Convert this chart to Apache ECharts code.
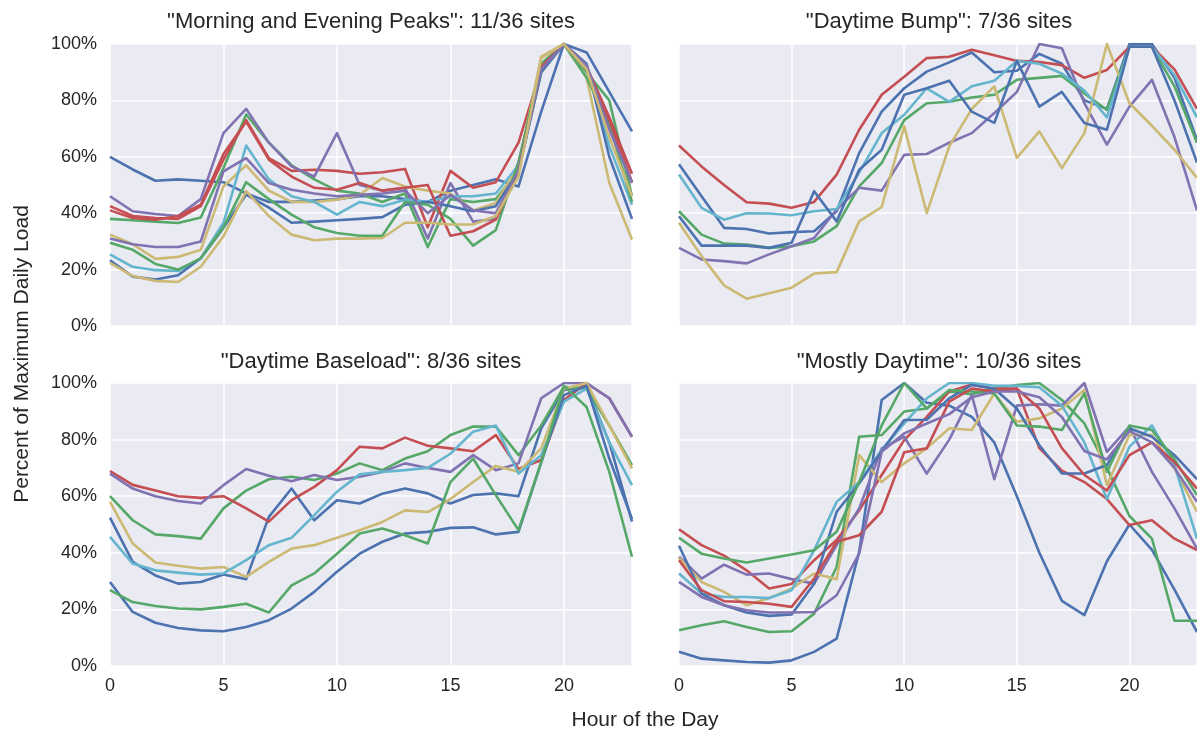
<!DOCTYPE html>
<html>
<head>
<meta charset="utf-8">
<script src="https://cdn.jsdelivr.net/npm/echarts@6/dist/echarts.min.js"></script>
<style>
  html, body { margin: 0; padding: 0; background: #fff; }
  #chart { width: 1197px; height: 731px; }
</style>
</head>
<body>
<div id="chart"></div>
<script>
// Hours of the day on the shared x axis
const hours = [0, 1, 2, 3, 4, 5, 6, 7, 8, 9, 10, 11, 12, 13, 14, 15, 16, 17, 18, 19, 20, 21, 22, 23];
const xTicks = [0, 5, 10, 15, 20];
const yTicks = [0, 20, 40, 60, 80, 100];

const panelTitles = [
  '"Morning and Evening Peaks": 11/36 sites',
  '"Daytime Bump": 7/36 sites',
  '"Daytime Baseload": 8/36 sites',
  '"Mostly Daytime": 10/36 sites'
];

// Percent of maximum daily load, one row per site
const morningEveningPeaks = [
  [60, 55.5, 51.5, 52, 51.5, 51, 47, 44, 44, 44.5, 45, 46, 46, 45, 44, 48, 50, 52, 49.5, 76, 100, 97, 83, 69],
  [38, 37.5, 37, 36.5, 38.5, 56, 75, 65, 57, 52, 48, 47, 44, 47, 28, 45, 44, 45, 55, 90, 100, 90, 80, 46],
  [42.5, 39, 38.3, 38, 42.5, 59, 73, 59.5, 55, 55.4, 55, 54, 54.5, 55.7, 35, 55, 49, 51, 65, 91, 100, 92, 74, 54],
  [46, 40.7, 39.7, 39, 45, 68.4, 77, 65, 56.6, 53, 68.4, 50, 48, 49, 31, 50.7, 37, 38, 58, 91, 100, 91, 72, 50.7],
  [32.4, 29, 23.8, 24.5, 27, 49.5, 57, 48, 44, 44, 44.8, 46.5, 52.5, 49.5, 48, 47, 41, 43.6, 56.6, 95.5, 100, 88, 50.7, 30.7],
  [25.4, 21, 19.8, 19.5, 24, 36.6, 64, 52, 46, 44, 39.5, 44, 42.5, 44.8, 44, 46, 46, 47, 57, 93, 100, 92, 63.7, 43],
  [23.3, 17.5, 16.5, 18, 24, 34.8, 46.6, 42, 36.6, 37, 37.5, 38, 38.6, 43, 44, 42.5, 40.7, 42.5, 55, 90, 100, 93, 60, 38],
  [29.5, 27, 22, 20, 24, 35, 51, 45, 39.5, 35, 33, 32, 32, 44, 43, 38, 28.5, 34, 58, 93, 100, 88, 72, 44],
  [41, 38.3, 37.7, 39, 43, 61, 72.5, 59, 53, 49, 48.3, 50.7, 48, 49, 50, 32, 33.6, 37.7, 55, 92, 100, 91, 73, 51],
  [31, 29, 28, 28, 30, 54.8, 59.5, 50.7, 48.3, 47, 46, 46.5, 47, 48, 40, 46.5, 41, 40, 55, 91, 100, 92.5, 69.6, 51],
  [22.4, 17.7, 16, 15.6, 21, 31.8, 47.8, 39, 32.4, 30.4, 31, 31, 31.2, 36.6, 36.6, 36, 36, 39, 53, 95, 100, 91, 67, 46]
];

const daytimeBump = [
  [57.4, 46, 34.8, 34.4, 32.8, 33.3, 33.6, 40.7, 61.3, 76, 84.3, 90.2, 93.5, 97, 90, 90.5, 96.5, 93, 80, 77, 100, 100, 88, 66],
  [40.7, 32.4, 29.2, 28.9, 27.7, 28.3, 30, 35.4, 49.5, 57.8, 73, 79, 79.5, 81, 82, 87.3, 88, 88.7, 82.5, 76.6, 99, 99, 85, 65],
  [64, 56.6, 50, 43.9, 43.4, 41.9, 44, 53.7, 69.6, 82, 88.4, 95, 95.5, 98, 96, 94, 93.6, 92.5, 88, 90.8, 99, 99, 91, 77],
  [27.7, 23.6, 23, 22.2, 25.4, 28.3, 31.2, 41.3, 49, 48, 60.7, 61, 65, 68.4, 75.5, 83, 100, 98.5, 79, 64.3, 77.8, 87.3, 67, 41],
  [36.6, 24.8, 14.4, 9.7, 11.6, 13.6, 18.6, 19.1, 37.1, 42.2, 70.8, 40, 63.7, 77, 85, 59.6, 69, 56, 68.4, 100, 79, 71, 62.5, 52.5],
  [53.7, 41.9, 37.7, 40, 39.9, 39.3, 40.7, 41.5, 54.4, 68.4, 74.9, 84.3, 79.5, 85, 87, 94, 93, 89.5, 83.5, 74, 99, 99, 89, 74],
  [38.9, 28.5, 28.5, 28.5, 27.7, 29.5, 47.8, 37.1, 55.4, 62.5, 82, 84.3, 87, 76, 72, 94, 77.8, 83, 72, 69.6, 99, 99, 80, 58]
];

const daytimeBaseload = [
  [52.4, 36.8, 32, 29.1, 29.7, 32.3, 30.7, 52.7, 62.7, 51.5, 58.6, 57.4, 60.9, 62.7, 61, 57.4, 60.4, 61, 60, 84, 97.5, 98.7, 79, 51],
  [60, 51.5, 46.5, 45.9, 45, 55.7, 62, 66, 66.9, 65.7, 68, 71.6, 69.2, 73.3, 75.9, 81.6, 84.6, 84.6, 74.5, 85, 98.7, 98, 85, 71],
  [68.9, 64, 62, 60, 59.4, 60, 55.7, 51, 58.6, 63.3, 69.2, 77.5, 76.9, 80.7, 77.8, 76.9, 75.9, 81.6, 69.6, 72.8, 94, 99.9, 94.6, 81],
  [68, 62.7, 60, 58.3, 57.4, 63.9, 69.6, 67.2, 65.3, 67.5, 65.7, 66.9, 68.6, 71.6, 70, 68.6, 74.5, 69.2, 71.6, 94.6, 100, 100, 94.6, 81],
  [58, 43.3, 36.6, 35.4, 34.4, 35, 31.5, 36.8, 41.5, 42.7, 45.3, 48, 50.9, 55, 54.4, 59, 65, 70.7, 68.6, 76.9, 98, 100, 85, 69.8],
  [45.6, 36.2, 33.8, 33, 32.3, 32.7, 37.4, 42.7, 45.3, 53.3, 61.6, 67.7, 68.6, 69.2, 70, 75, 82.8, 85, 68, 74.5, 93.4, 98, 79, 63.9],
  [29.7, 19.1, 15.3, 13.4, 12.6, 12.3, 13.8, 16.2, 20.3, 26.2, 33.3, 39.7, 43.9, 46.8, 47.4, 48.8, 49, 46.5, 47.4, 72, 95.7, 99, 73.3, 52],
  [26.8, 22.6, 21.2, 20.3, 20, 20.9, 22, 18.9, 28.5, 32.7, 39.7, 46.8, 48.6, 46.2, 43.3, 65, 73.3, 60.4, 48, 72, 99, 91.5, 68.6, 38.6]
];

const mostlyDaytime = [
  [5, 2.6, 2, 1.4, 1.2, 2, 5, 9.7, 40.3, 94, 100, 93, 92, 88, 79, 60, 40, 23, 18, 37, 50, 41, 27, 12],
  [12.6, 14.4, 15.8, 13.8, 12, 12.3, 18.5, 35, 81, 81.6, 89.9, 91, 97, 96, 98, 99.3, 100, 94, 85.7, 70, 53, 45, 16, 16],
  [48.3, 42.7, 39, 33.8, 27.4, 29, 37.4, 44.5, 55, 67.5, 79.8, 88, 97, 99.5, 98, 98, 77, 69, 65, 59, 49.8, 51.5, 45, 41],
  [38.6, 30.9, 35.8, 32.3, 32.7, 30.7, 29.1, 42.7, 55.7, 76.9, 81, 68, 80, 95.7, 66, 92, 92.5, 92, 100, 75.7, 84.6, 68.6, 55.7, 41.5],
  [38.2, 29.7, 26.2, 21.5, 24, 27.4, 32.7, 30.7, 74.5, 65, 71.6, 76.9, 84, 83.4, 96.3, 86.3, 87.5, 91, 97.5, 63.9, 81.6, 81.6, 69.8, 54.5],
  [32.7, 25.6, 24.4, 24.4, 24, 26.8, 40.9, 58, 65, 76.3, 85.7, 94.6, 100, 100, 99, 99, 98.5, 92, 79, 59, 77.5, 85, 71, 45],
  [42.5, 25.6, 21.5, 18.9, 17.7, 18.2, 29.1, 54.5, 64.5, 76, 86.9, 87, 94.6, 99.3, 98, 91, 78, 68, 68, 71, 84, 81, 74.5, 66],
  [45.3, 39.7, 38, 36.6, 38, 39.4, 40.9, 47.4, 65, 85, 100, 91, 97.5, 97, 96.3, 85, 84.6, 83.4, 96.3, 68.6, 85, 83.4, 73, 60.4],
  [37.4, 26.8, 22.9, 22.6, 22, 20.9, 30.9, 43.9, 46.2, 54.5, 75.5, 76.9, 93.4, 98, 97, 98, 91, 77, 67.5, 62, 74.5, 79, 72, 62.7],
  [29.7, 24.4, 21.5, 19.7, 18.9, 18.9, 19.1, 25, 39.7, 75.7, 82.2, 85.7, 89, 95, 97, 97, 95, 88, 76, 73, 83, 79, 70, 58]
];

const palette = ['#4C72B0', '#55A868', '#C44E52', '#8172B2', '#CCB974', '#64B5CD'];

const panels = [morningEveningPeaks, daytimeBump, daytimeBaseload, mostlyDaytime];

// Plot areas: two rows, two columns
const grids = [
  { left: 110, top: 44, width: 522, height: 282 },
  { left: 679, top: 44, width: 520, height: 282 },
  { left: 110, top: 383, width: 522, height: 283 },
  { left: 679, top: 383, width: 520, height: 283 }
];

const textColor = '#262626';
const fontFamily = '"Liberation Sans", Arial, sans-serif';

const chart = echarts.init(document.getElementById('chart'), null, { renderer: 'canvas' });

const xAxes = grids.map((g, i) => ({
  type: 'value', gridIndex: i, min: 0, max: 23, interval: 5,
  axisLine: { show: false }, axisTick: { show: false },
  axisLabel: {
    show: i >= 2, color: textColor, fontSize: 18, fontFamily, margin: 11,
    customValues: xTicks
  },
  splitLine: { show: true, lineStyle: { color: '#ffffff', width: 1.5 } }
}));

const yAxes = grids.map((g, i) => ({
  type: 'value', gridIndex: i, min: 0, max: 100, interval: 20,
  axisLine: { show: false }, axisTick: { show: false },
  axisLabel: {
    show: i % 2 === 0, color: textColor, fontSize: 18, fontFamily, margin: 13,
    formatter: '{value}%'
  },
  splitLine: { show: true, lineStyle: { color: '#ffffff', width: 1.5 } }
}));

const series = [];
panels.forEach((rows, p) => {
  rows.forEach((vals, i) => {
    series.push({
      type: 'line', xAxisIndex: p, yAxisIndex: p,
      data: vals.map((v, h) => [hours[h], v]),
      showSymbol: false, symbol: 'none', silent: true,
      color: palette[i % palette.length],
      lineStyle: { width: 2.6, color: palette[i % palette.length], join: 'round' },
      z: 2
    });
  });
});

const titleCenters = [[371, 22], [939, 22], [371, 362], [939, 362]];
const graphics = panelTitles.map((t, i) => ({
  type: 'text', x: titleCenters[i][0], y: titleCenters[i][1],
  style: { text: t, fill: textColor, font: '22px ' + fontFamily, textAlign: 'center', textVerticalAlign: 'middle' }
}));
graphics.push({
  type: 'text', x: 645, y: 720,
  style: { text: 'Hour of the Day', fill: textColor, font: '21px ' + fontFamily, textAlign: 'center', textVerticalAlign: 'middle' }
});
graphics.push({
  type: 'text', x: 22, y: 354, rotation: Math.PI / 2,
  style: { text: 'Percent of Maximum Daily Load', fill: textColor, font: '21px ' + fontFamily, textAlign: 'center', textVerticalAlign: 'middle' }
});

chart.setOption({
  animation: false,
  backgroundColor: '#ffffff',
  grid: grids.map(g => Object.assign({ show: true, backgroundColor: '#EAEAF2', borderWidth: 0 }, g)),
  xAxis: xAxes,
  yAxis: yAxes,
  series,
  graphic: graphics
});
</script>
</body>
</html>
